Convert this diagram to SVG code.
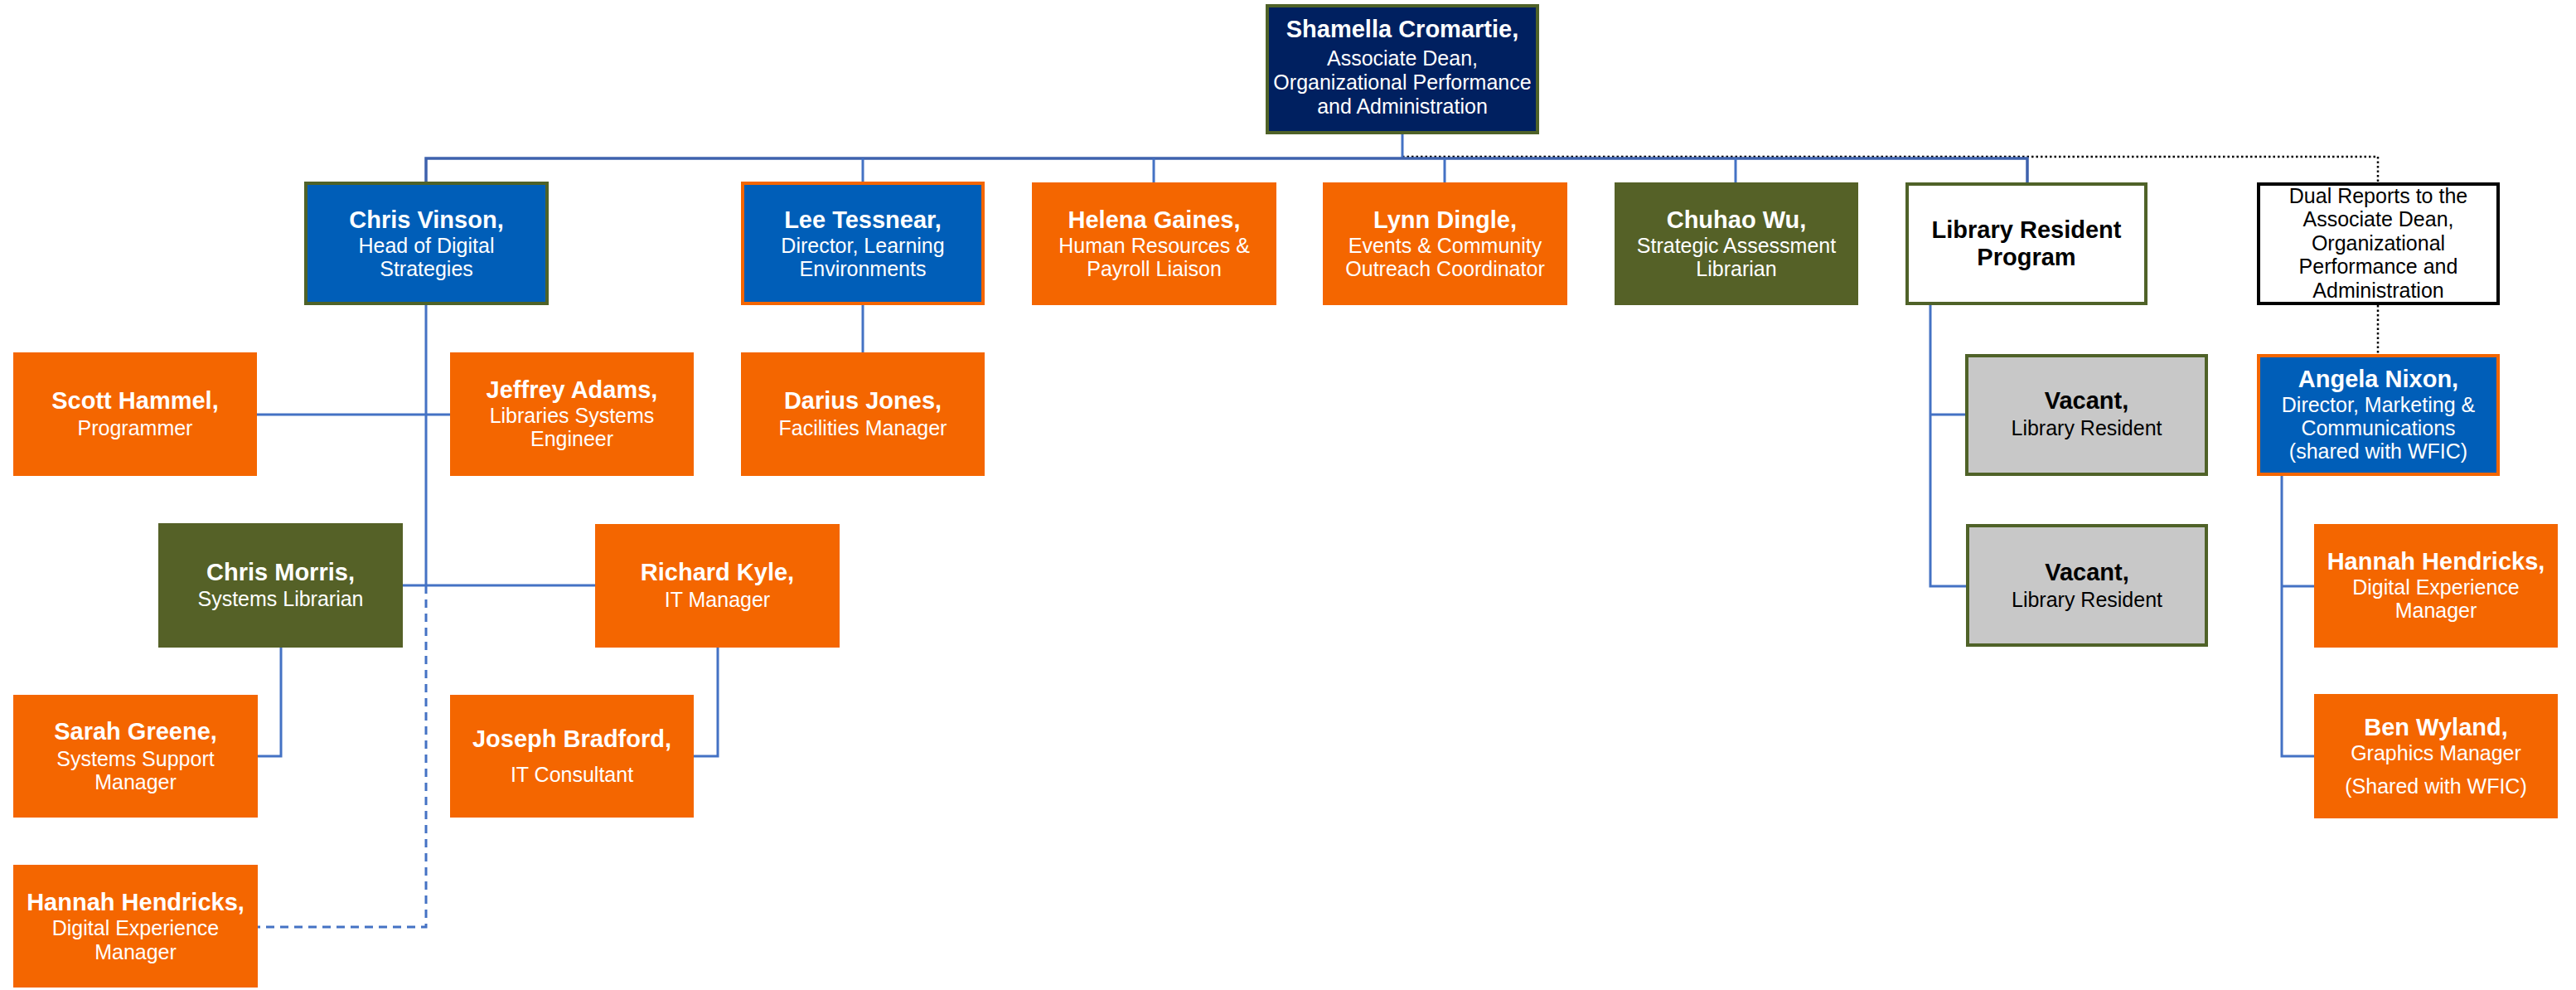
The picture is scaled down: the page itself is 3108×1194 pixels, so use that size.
<svg xmlns="http://www.w3.org/2000/svg" width="3108" height="1194" viewBox="0 0 3108 1194">
<style>
.bg{fill:#ffffff}
.or{fill:#F46600}
.bl{fill:#005EB8}
.ol{fill:#556127}
.nv{fill:#002060}
.gr{fill:#C8C8C8}
.wh{fill:#ffffff}
.bo{stroke:#4F6228;stroke-width:4}
.bor{stroke:#F46600;stroke-width:4}
.bk{stroke:#000000;stroke-width:4}
text{font-family:"Liberation Sans",Arial,sans-serif;text-anchor:middle}
.n{font-weight:bold;font-size:29px}
.t{font-size:25px}
.w{fill:#ffffff}
.k{fill:#000000}
.ln{fill:none;stroke:#4472C4;stroke-width:3}
.bus{fill:none;stroke:#3E62AD;stroke-width:3.5}
.dash{fill:none;stroke:#4472C4;stroke-width:3;stroke-dasharray:10 7}
.dot{fill:none;stroke:#000000;stroke-width:2.5;stroke-dasharray:2.5 3}
</style>
<rect class="bg" x="0" y="0" width="3108" height="1194"/>
<g id="connectors">
<path class="dot" d="M1692 189 H2869 V220 M2869 368 V427"/>
<path class="ln" d="M1692 162 V191"/>
<path class="bus" d="M514 219 V191 H2446 V220"/>
<path class="ln" d="M1041 191 V219 M1392 191 V220 M1743 191 V220 M2094 191 V220"/>
<path class="ln" d="M514 368 V706"/>
<path class="dash" d="M514 706 V1118 H311"/>
<path class="ln" d="M310 500 H543"/>
<path class="ln" d="M486 706 H718"/>
<path class="ln" d="M339 781 V912 H311"/>
<path class="ln" d="M866 781 V912 H837"/>
<path class="ln" d="M1041 368 V425"/>
<path class="ln" d="M2329 368 V707 H2372 M2329 500 H2371"/>
<path class="ln" d="M2753 574 V912 H2792 M2753 707 H2792"/>
</g>
<g id="shamella">
<rect class="nv bo" x="1529" y="7" width="326" height="153"/>
<text class="n w" x="1692" y="45">Shamella Cromartie,</text>
<text class="t w" x="1692" y="79">Associate Dean,</text>
<text class="t w" x="1692" y="108">Organizational Performance</text>
<text class="t w" x="1692" y="137">and Administration</text>
</g>
<g id="chris-vinson">
<rect class="bl bo" x="369" y="221" width="291" height="145"/>
<text class="n w" x="514.5" y="275">Chris Vinson,</text>
<text class="t w" x="514.5" y="305">Head of Digital</text>
<text class="t w" x="514.5" y="333">Strategies</text>
</g>
<g id="lee-tessnear">
<rect class="bl bor" x="896" y="221" width="290" height="145"/>
<text class="n w" x="1041" y="275">Lee Tessnear,</text>
<text class="t w" x="1041" y="305">Director, Learning</text>
<text class="t w" x="1041" y="333">Environments</text>
</g>
<g id="helena-gaines">
<rect class="or" x="1245" y="220" width="295" height="148"/>
<text class="n w" x="1392.5" y="275">Helena Gaines,</text>
<text class="t w" x="1392.5" y="305">Human Resources &amp;</text>
<text class="t w" x="1392.5" y="333">Payroll Liaison</text>
</g>
<g id="lynn-dingle">
<rect class="or" x="1596" y="220" width="295" height="148"/>
<text class="n w" x="1743.5" y="275">Lynn Dingle,</text>
<text class="t w" x="1743.5" y="305">Events &amp; Community</text>
<text class="t w" x="1743.5" y="333">Outreach Coordinator</text>
</g>
<g id="chuhao-wu">
<rect class="ol" x="1948" y="220" width="294" height="148"/>
<text class="n w" x="2095" y="275">Chuhao Wu,</text>
<text class="t w" x="2095" y="305">Strategic Assessment</text>
<text class="t w" x="2095" y="333">Librarian</text>
</g>
<g id="library-resident-program">
<rect class="wh bo" x="2301" y="222" width="288" height="144"/>
<text class="n k" x="2445" y="287">Library Resident</text>
<text class="n k" x="2445" y="320">Program</text>
</g>
<g id="dual-reports">
<rect class="wh bk" x="2725" y="222" width="289" height="144"/>
<text class="t k" x="2869.5" y="245">Dual Reports to the</text>
<text class="t k" x="2869.5" y="273">Associate Dean,</text>
<text class="t k" x="2869.5" y="302">Organizational</text>
<text class="t k" x="2869.5" y="330">Performance and</text>
<text class="t k" x="2869.5" y="359">Administration</text>
</g>
<g id="scott-hammel">
<rect class="or" x="16" y="425" width="294" height="149"/>
<text class="n w" x="163" y="493">Scott Hammel,</text>
<text class="t w" x="163" y="525">Programmer</text>
</g>
<g id="jeffrey-adams">
<rect class="or" x="543" y="425" width="294" height="149"/>
<text class="n w" x="690" y="480">Jeffrey Adams,</text>
<text class="t w" x="690" y="510">Libraries Systems</text>
<text class="t w" x="690" y="538">Engineer</text>
</g>
<g id="darius-jones">
<rect class="or" x="894" y="425" width="294" height="149"/>
<text class="n w" x="1041" y="493">Darius Jones,</text>
<text class="t w" x="1041" y="525">Facilities Manager</text>
</g>
<g id="vacant-1">
<rect class="gr bo" x="2373" y="429" width="289" height="143"/>
<text class="n k" x="2517.5" y="493">Vacant,</text>
<text class="t k" x="2517.5" y="525">Library Resident</text>
</g>
<g id="angela-nixon">
<rect class="bl bor" x="2725" y="429" width="289" height="143"/>
<text class="n w" x="2869.5" y="467">Angela Nixon,</text>
<text class="t w" x="2869.5" y="497">Director, Marketing &amp;</text>
<text class="t w" x="2869.5" y="525">Communications</text>
<text class="t w" x="2869.5" y="553">(shared with WFIC)</text>
</g>
<g id="chris-morris">
<rect class="ol" x="191" y="631" width="295" height="150"/>
<text class="n w" x="338.5" y="700">Chris Morris,</text>
<text class="t w" x="338.5" y="731">Systems Librarian</text>
</g>
<g id="richard-kyle">
<rect class="or" x="718" y="632" width="295" height="149"/>
<text class="n w" x="865.5" y="700">Richard Kyle,</text>
<text class="t w" x="865.5" y="732">IT Manager</text>
</g>
<g id="vacant-2">
<rect class="gr bo" x="2374" y="634" width="288" height="144"/>
<text class="n k" x="2518" y="700">Vacant,</text>
<text class="t k" x="2518" y="732">Library Resident</text>
</g>
<g id="hannah-hendricks-right">
<rect class="or" x="2792" y="632" width="294" height="149"/>
<text class="n w" x="2939" y="687">Hannah Hendricks,</text>
<text class="t w" x="2939" y="717">Digital Experience</text>
<text class="t w" x="2939" y="745">Manager</text>
</g>
<g id="sarah-greene">
<rect class="or" x="16" y="838" width="295" height="148"/>
<text class="n w" x="163.5" y="892">Sarah Greene,</text>
<text class="t w" x="163.5" y="924">Systems Support</text>
<text class="t w" x="163.5" y="952">Manager</text>
</g>
<g id="joseph-bradford">
<rect class="or" x="543" y="838" width="294" height="148"/>
<text class="n w" x="690" y="901">Joseph Bradford,</text>
<text class="t w" x="690" y="943">IT Consultant</text>
</g>
<g id="ben-wyland">
<rect class="or" x="2792" y="837" width="294" height="150"/>
<text class="n w" x="2939" y="887">Ben Wyland,</text>
<text class="t w" x="2939" y="917">Graphics Manager</text>
<text class="t w" x="2939" y="957">(Shared with WFIC)</text>
</g>
<g id="hannah-hendricks-left">
<rect class="or" x="16" y="1043" width="295" height="148"/>
<text class="n w" x="163.5" y="1098">Hannah Hendricks,</text>
<text class="t w" x="163.5" y="1128">Digital Experience</text>
<text class="t w" x="163.5" y="1157">Manager</text>
</g>
</svg>
